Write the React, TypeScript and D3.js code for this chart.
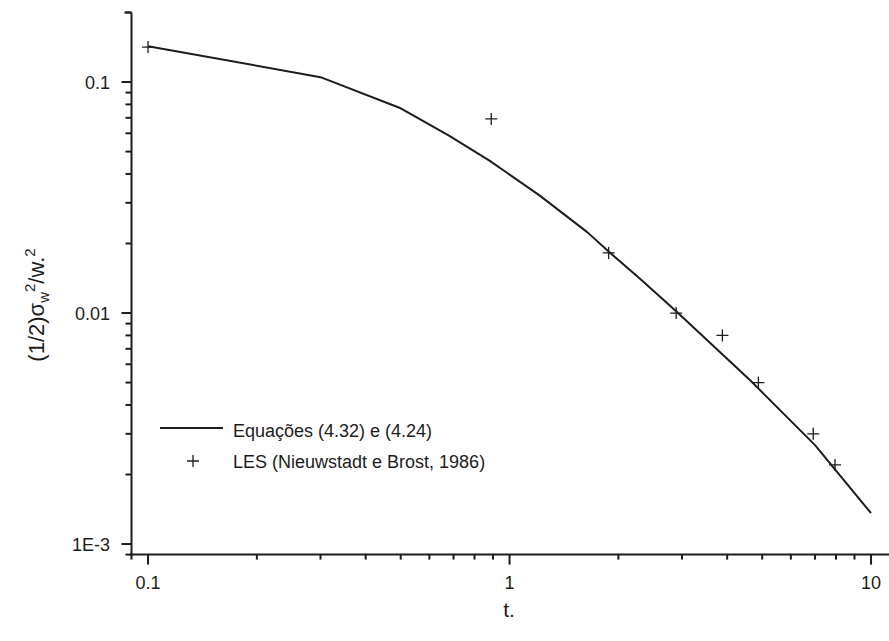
import * as d3 from 'd3'

// Model curve, eqs (4.32) e (4.24)
const lineT = [0.1, 0.3, 0.5, 0.68, 0.88, 1.21, 1.64, 1.88, 2.3, 2.89, 4.63, 7, 10]
const lineY = [0.143, 0.105, 0.077, 0.0586, 0.0457, 0.0323, 0.0224, 0.01845, 0.01405, 0.01017, 0.00512, 0.00268, 0.00136]

// LES points (Nieuwstadt e Brost, 1986)
const lesT = [0.1, 0.89, 1.88, 2.89, 3.88, 4.88, 6.92, 7.95]
const lesY = [0.1417, 0.0692, 0.0182, 0.01, 0.008, 0.005, 0.003, 0.0022]

const xTickValues = [0.1, 1, 10]
const xTickLabels = ['0.1', '1', '10']
const yTickValues = [0.001, 0.01, 0.1]
const yTickLabels = ['1E-3', '0.01', '0.1']

const legendLabels = ['Equações (4.32) e (4.24)', 'LES (Nieuwstadt e Brost, 1986)']

const W = 889
const H = 641
const FONT = '"Liberation Sans", Arial, sans-serif'
const INK = '#1c1c1c'

const isDecade = (v: number) => Math.abs(Math.log10(v) - Math.round(Math.log10(v))) < 1e-6

export default function App() {
  const x = d3.scaleLog().domain([0.09, 11]).range([131.5, 886])
  const y = d3.scaleLog().domain([9e-4, 0.2]).range([554.6, 12.5])

  const x0 = x.range()[0]
  const y0 = y.range()[0]

  const line = d3
    .line<number>()
    .x((_, i) => x(lineT[i]))
    .y((d) => y(d))

  const cross = (cx: number, cy: number, r = 6) => `M${cx - r},${cy}H${cx + r}M${cx},${cy - r}V${cy + r}`

  return (
    <svg
      width={W}
      height={H}
      style={{ position: 'absolute', left: 0, top: 0, background: '#fff' }}
      fontFamily={FONT}
    >
      <rect width={W} height={H} fill="#fff" />

      {/* axes */}
      <g stroke={INK} strokeWidth={2} fill="none">
        <line x1={x0} x2={x0} y1={y.range()[1]} y2={y0 + 1} />
        <line x1={x0 - 1} x2={x.range()[1] + 3} y1={y0} y2={y0} />
        {x.ticks().map((v, i) => (
          <line key={'xt' + i} x1={x(v)} x2={x(v)} y1={y0} y2={y0 + (isDecade(v) ? 10 : 5)} />
        ))}
        {y.ticks().map((v, i) => (
          <line key={'yt' + i} x1={x0} x2={x0 - (isDecade(v) ? 10 : 6)} y1={y(v)} y2={y(v)} />
        ))}
        <line x1={x0} x2={x0 - 7} y1={y.range()[1]} y2={y.range()[1]} />
      </g>

      {/* tick labels */}
      <g fill={INK} fontSize={18}>
        {xTickValues.map((v, i) => (
          <text key={'xl' + i} x={x(v)} y={589} textAnchor="middle">
            {xTickLabels[i]}
          </text>
        ))}
        {yTickValues.map((v, i) => (
          <text key={'yl' + i} x={110} y={y(v)} dy="0.36em" textAnchor="end">
            {yTickLabels[i]}
          </text>
        ))}
      </g>

      {/* axis titles */}
      <text x={509} y={617} textAnchor="middle" fontSize={21} fill={INK}>
        t.
      </text>
      <text
        transform={`translate(44,305) rotate(-90)`}
        textAnchor="middle"
        fontSize={22}
        fill={INK}
      >
        (1/2)σ
        <tspan fontSize={15} dy={5}>w</tspan>
        <tspan fontSize={15} dy={-14}>2</tspan>
        <tspan dy={9}>/w.</tspan>
        <tspan fontSize={15} dy={-9}>2</tspan>
      </text>

      {/* model curve */}
      <path d={line(lineY) ?? ''} fill="none" stroke={INK} strokeWidth={2} strokeLinejoin="round" />

      {/* LES points */}
      <g stroke={INK} strokeWidth={1.3} fill="none">
        {lesT.map((t, i) => (
          <path key={'p' + i} d={cross(x(t), y(lesY[i]))} />
        ))}
      </g>

      {/* legend */}
      <g fill={INK} fontSize={18}>
        <line x1={160} x2={223} y1={428} y2={428} stroke={INK} strokeWidth={2} />
        <text x={233} y={437}>{legendLabels[0]}</text>
        <path d={cross(193, 461)} stroke={INK} strokeWidth={1.3} fill="none" />
        <text x={233} y={468}>{legendLabels[1]}</text>
      </g>
    </svg>
  )
}
